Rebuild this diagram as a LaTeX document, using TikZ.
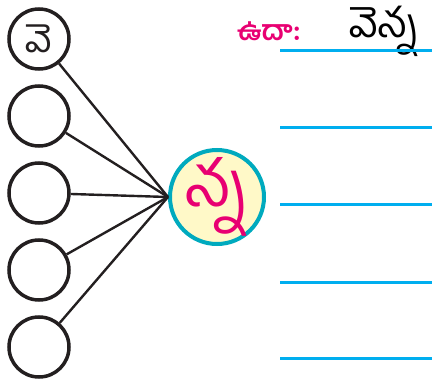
\documentclass[tikz,border=0pt]{standalone}
\usepackage{fontspec}
\newfontfamily\telugu[Script=Telugu]{Hind Guntur}
\usepackage{tikz}
\usetikzlibrary{calc}
\definecolor{rand}{RGB}{0,170,190}
\definecolor{hellgelb}{RGB}{255,249,200}
\definecolor{schrift}{RGB}{232,0,114}
\definecolor{linie}{RGB}{0,174,239}
\definecolor{strich}{RGB}{35,31,32}
\tikzset{kreis/.style={circle, draw=strich, line width=3.5pt, minimum size=60pt, inner sep=0pt},
	silbe/.style={inner sep=0pt, font=\telugu\fontsize{#1}{#1}\selectfont}}

\begin{document}
\begin{tikzpicture}[x=1pt, y=-1pt, strich, line width=2.4pt]
	\useasboundingbox (0,0) rectangle (432,383);

	\foreach \i in {1,...,5}
		\node[kreis] (k\i) at (39,{39+77*(\i-1)}) {};
	\node[silbe=38] (ve) at (k1) {వె};

	\node[circle, draw=rand, fill=hellgelb, line width=4pt, minimum size=94pt] (mitte) at (217,197) {};
	\node[silbe=64, text=schrift] (nna) at (mitte) {న్న};

	\foreach \i in {1,...,5}
		\draw (k\i) -- (mitte.west);

	\node[inner sep=0pt, text=schrift, font=\telugu\bfseries\fontsize{28}{28}\selectfont] (uda) at (269,31) {ఉదా:};
	\node[silbe=41, text=black] (wort) at (384,31) {వెన్న};

	\foreach \y in {50,127,204,282,358}
		\draw[linie, line width=3pt] (280,\y) -- (432,\y);
\end{tikzpicture}
\end{document}
